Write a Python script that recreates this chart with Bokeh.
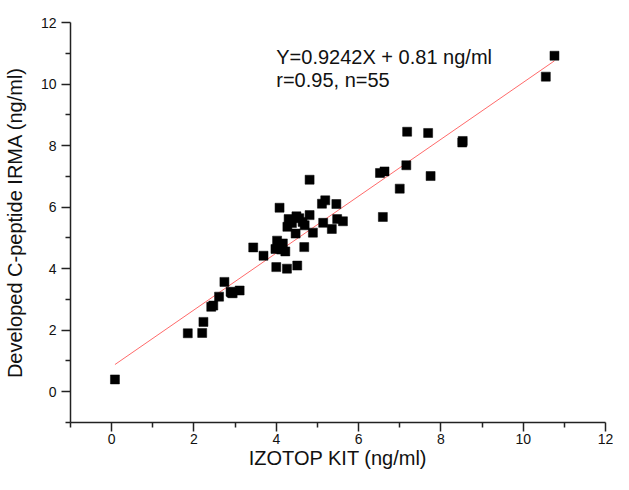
from bokeh.plotting import figure
from bokeh.models import Range1d, FixedTicker, Label
from bokeh.embed import file_html
from bokeh.resources import INLINE

# Data
izotop_kit = [0.08, 1.85, 2.20, 2.23, 2.42, 2.47, 2.61, 2.74, 2.89, 2.94,
              3.11, 3.44, 3.69, 3.98, 4.02, 4.16, 4.22, 4.00, 4.26, 4.51,
              4.68, 4.08, 4.81, 4.30, 4.49, 4.64, 4.27, 4.47, 4.69, 4.81,
              4.89, 5.11, 5.19, 5.46, 5.48, 5.62, 5.14, 5.35, 6.52, 6.63,
              7.00, 7.16, 7.18, 7.69, 7.75, 8.53, 6.59, 10.55, 10.76,
              4.38, 4.56, 4.05, 4.12, 2.91, 8.52]
irma = [0.40, 1.90, 1.91, 2.27, 2.76, 2.80, 3.09, 3.57, 3.25, 3.20,
        3.29, 4.69, 4.42, 4.64, 4.91, 4.82, 4.56, 4.05, 4.00, 4.10,
        4.70, 5.98, 6.89, 5.61, 5.70, 5.52, 5.36, 5.14, 5.41, 5.74,
        5.17, 6.11, 6.22, 6.10, 5.61, 5.54, 5.49, 5.29, 7.11, 7.16,
        6.60, 7.36, 8.45, 8.41, 7.01, 8.15, 5.68, 10.24, 10.92,
        5.48, 5.64, 4.76, 4.62, 3.22, 8.10]
slope = 0.9242
intercept = 0.81
major_ticks = [0, 2, 4, 6, 8, 10, 12]
minor_ticks = [-1, 1, 3, 5, 7, 9, 11]
eq_text = "Y=0.9242X + 0.81 ng/ml"
stat_text = "r=0.95, n=55"

FONT = "Liberation Sans"

p = figure(width=613, height=474, x_range=Range1d(-1, 12), y_range=Range1d(-1, 12),
           output_backend="svg", toolbar_location=None,
           min_border_left=69, min_border_right=8, min_border_top=22, min_border_bottom=52)
p.outline_line_color = None
p.xgrid.visible = False
p.ygrid.visible = False
p.background_fill_color = "white"
p.border_fill_color = "white"

for ax in (p.xaxis[0], p.yaxis[0]):
    ax.ticker = FixedTicker(ticks=major_ticks, minor_ticks=minor_ticks)
    ax.axis_line_color = "#222222"
    ax.axis_line_width = 1.5
    ax.major_tick_line_color = "#222222"
    ax.major_tick_line_width = 1.5
    ax.minor_tick_line_color = "#222222"
    ax.minor_tick_line_width = 1.5
    ax.major_tick_out = 9
    ax.major_tick_in = 0
    ax.minor_tick_out = 5
    ax.minor_tick_in = 0
    ax.major_label_text_font = FONT
    ax.major_label_text_font_size = "14px"
    ax.major_label_text_color = "#111111"
    ax.axis_label_text_font = FONT
    ax.axis_label_text_font_size = "20px"
    ax.axis_label_text_font_style = "normal"
    ax.axis_label_text_color = "#111111"

p.xaxis.axis_label = "IZOTOP KIT (ng/ml)"
p.yaxis.axis_label = "Developed C-peptide IRMA (ng/ml)"
p.xaxis.major_label_standoff = 2
p.xaxis.axis_label_standoff = 0
p.yaxis.major_label_standoff = 5
p.yaxis.axis_label_standoff = 12

# regression line across the data range
x0, x1 = min(izotop_kit), max(izotop_kit)
p.line([x0, x1], [slope * x0 + intercept, slope * x1 + intercept],
       line_color="#ff6a6a", line_width=1)

p.scatter(izotop_kit, irma, marker="square", size=9,
          fill_color="black", line_color="black", line_width=0.5)

p.add_layout(Label(x=4.0, y=10.88, text=eq_text, text_font=FONT,
                   text_font_size="20px", text_color="#111111",
                   text_baseline="alphabetic"))
p.add_layout(Label(x=4.0, y=10.12, text=stat_text, text_font=FONT,
                   text_font_size="20px", text_color="#111111",
                   text_baseline="alphabetic"))

open("out.html", "w").write(file_html(p, INLINE))
